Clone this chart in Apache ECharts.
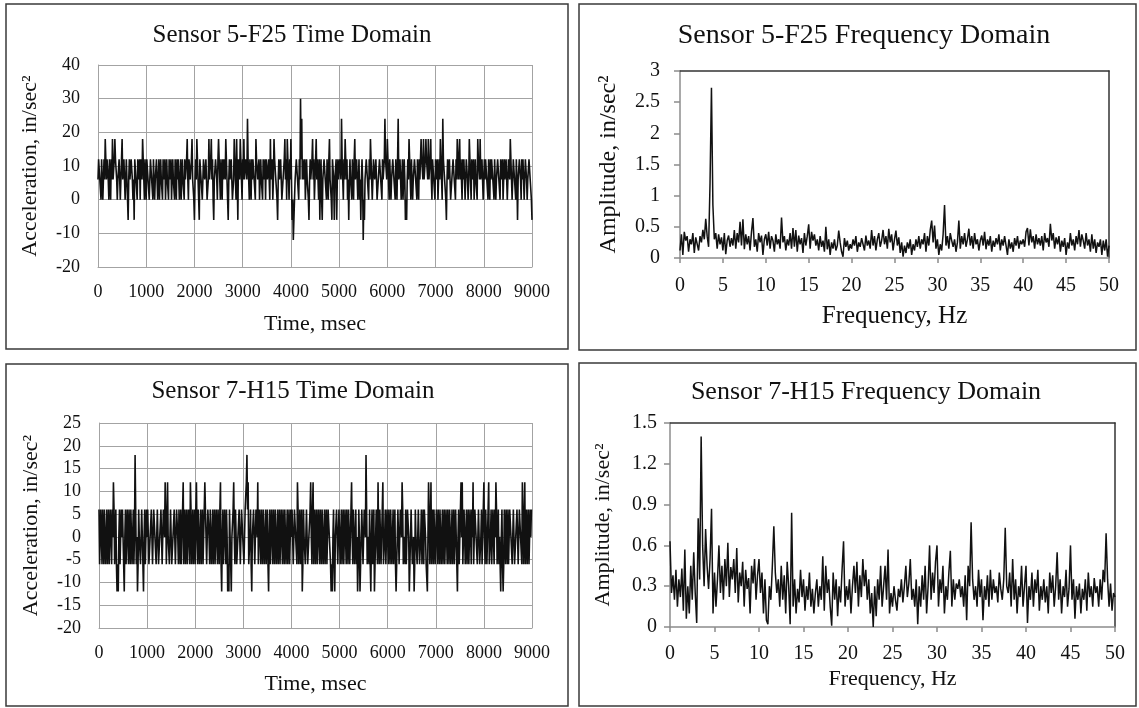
<!DOCTYPE html>
<html>
<head>
<meta charset="utf-8">
<title>Sensor 5-F25 / 7-H15</title>
<script src="https://cdn.jsdelivr.net/npm/echarts@6/dist/echarts.min.js"></script>
<style>
  html, body { margin: 0; padding: 0; background: #fff; }
  #chart { width: 1139px; height: 708px; }
</style>
</head>
<body>
<div id="chart"></div>
<script>
// sample spacing of the recordings
var timeStepMs = 12.5;
var freqStepHz = 1 / 6;

// Sensor 5-F25, acceleration (in/sec^2), one value every 12.5 ms
var accelF25 = [
  6,12,12,6,6,0,12,6,0,6,12,6,18,12,6,12,12,6,0,12,6,0,12,6,18,6,6,12,18,12,12,6,0,6,6,12,12,0,6,12,
  18,6,6,12,12,0,0,12,6,0,-6,6,12,6,6,12,12,6,0,6,-6,12,12,6,6,0,12,6,6,12,0,12,12,6,18,12,6,0,12,6,
  0,12,12,6,6,0,0,12,12,6,6,0,12,6,0,6,6,12,12,0,6,12,0,6,12,6,6,0,12,6,6,12,0,6,12,6,6,0,12,6,
  6,12,0,6,12,6,6,0,12,6,0,12,6,12,12,0,6,12,0,6,12,6,6,0,12,6,6,12,18,6,0,12,12,6,6,12,18,6,6,0,
  -6,6,12,6,18,12,6,0,-6,12,12,6,6,0,0,12,12,6,6,12,12,0,0,6,18,6,6,12,18,6,12,0,-6,6,6,12,12,6,0,12,
  18,12,6,0,12,6,0,12,6,12,12,6,18,12,6,0,-6,6,12,6,6,12,12,0,0,6,18,12,6,0,18,6,-6,12,12,6,18,12,6,0,
  12,6,18,6,6,12,12,6,24,12,6,0,12,6,0,12,6,12,12,6,6,0,18,12,12,6,6,12,0,6,12,6,6,0,12,6,6,12,0,12,
  12,6,6,12,12,0,18,6,6,12,0,6,18,12,12,6,6,0,-6,6,12,6,6,12,12,0,0,6,6,12,18,6,12,0,18,12,6,0,12,6,
  18,6,-6,0,-12,-6,-6,6,6,12,12,6,6,0,12,6,30,12,24,6,12,6,6,12,0,6,12,6,6,0,-6,6,12,6,6,12,18,6,12,0,
  6,12,18,6,12,6,0,12,-6,6,12,0,-6,6,6,12,12,6,6,0,12,6,0,12,18,6,6,0,-6,12,12,6,-6,6,6,12,-6,6,12,6,
  6,12,12,6,24,12,6,0,12,6,18,12,6,12,0,6,-6,6,12,6,6,0,12,6,0,12,18,6,6,12,12,0,6,12,0,6,-6,6,12,6,
  -12,0,-6,6,6,12,12,6,6,0,12,6,18,12,6,0,0,12,12,6,6,12,12,0,0,6,6,12,12,6,6,0,12,6,6,12,24,12,12,6,
  18,12,6,0,12,6,0,6,6,12,12,6,6,0,12,6,0,12,24,6,6,12,12,0,6,12,0,6,12,6,-6,0,-6,6,12,6,18,12,6,0,
  12,6,0,6,6,12,12,6,6,0,12,6,0,12,6,12,18,12,12,6,18,6,6,12,18,12,12,6,18,6,6,12,18,6,0,12,12,6,6,0,
  12,6,6,12,0,6,12,6,18,12,6,0,24,12,12,6,6,0,-6,6,12,6,6,12,12,0,0,6,6,12,12,6,6,0,12,6,18,12,6,12,
  18,6,12,6,0,12,6,12,12,0,6,12,12,6,0,6,18,12,6,0,12,6,6,12,0,6,12,6,6,0,18,12,12,6,18,6,6,12,12,0,
  0,12,6,12,12,6,6,0,12,6,0,12,6,12,12,6,6,0,12,6,0,6,6,12,12,6,6,0,12,6,6,12,0,6,12,6,6,12,12,0,
  6,12,12,6,18,12,6,0,0,12,12,6,6,0,12,6,-6,6,6,12,12,6,0,12,6,12,12,0,6,12,12,6,0,6,6,12,12,6,6,0,
  -6
];

// Sensor 7-H15, acceleration (in/sec^2), one value every 12.5 ms
var accelH15 = [
  6,-6,-6,6,0,-6,6,0,-6,6,6,-6,0,6,-6,0,6,-6,-6,6,0,-6,6,0,12,6,-6,0,6,-6,-12,-6,-12,0,6,-6,-6,6,0,6,
  6,-6,-12,0,6,-6,-6,6,0,-6,6,0,-6,6,6,-6,0,6,-6,0,18,6,-6,0,-12,-6,6,0,0,-6,-6,6,6,-6,-12,0,6,-6,-6,6,
  0,6,6,-6,-6,0,0,6,6,-6,-6,6,6,0,0,-6,-6,6,6,-6,-6,0,0,6,6,-6,-6,6,6,0,12,6,-6,0,12,0,0,-6,-6,6,
  6,-6,-6,0,0,6,6,-6,-6,6,6,0,-6,6,0,-6,6,-6,-6,6,12,-6,0,6,-6,0,6,-6,-6,6,0,-6,12,6,-6,0,6,-6,0,6,
  -6,6,12,0,-6,6,6,-6,0,6,-6,0,6,-6,-6,6,12,6,0,-6,-6,6,6,0,-6,6,6,-6,0,6,-6,0,6,-6,-6,6,0,-6,6,0,
  -6,6,12,-6,-12,0,6,-6,-6,6,0,-6,6,0,-12,-6,-12,6,6,-6,-12,0,0,6,12,0,-6,6,6,-6,-6,0,0,6,6,-6,-6,6,6,0,
  0,-6,-6,6,6,12,18,6,12,-6,-6,0,6,-6,-12,0,0,6,6,-6,-6,6,6,0,12,-6,-6,6,0,-6,6,0,-6,6,6,-6,0,6,-6,0,
  6,-6,-12,0,6,-6,-6,6,0,-6,6,0,-6,6,6,-6,0,6,-6,0,6,-6,-6,6,0,-6,6,0,-6,6,6,-6,0,6,-6,0,6,-6,-6,6,
  0,6,6,-6,-6,6,6,0,0,-6,12,6,-6,0,6,-6,-6,6,-12,-6,6,0,0,-6,-6,6,6,-6,-6,0,0,6,12,0,-6,6,12,-6,0,6,
  -6,0,6,-6,-6,6,0,-6,6,0,-6,6,6,-6,0,6,-6,0,6,-6,-6,6,6,0,0,-6,-12,-6,-12,0,6,-6,-12,0,0,6,6,-6,-6,6,
  6,-6,0,6,-6,0,6,-6,-6,6,0,-6,6,0,-6,6,6,-6,0,6,12,0,-6,6,6,-6,0,6,-6,0,-12,-6,6,0,-12,-6,0,6,6,-6,
  -6,6,6,0,18,6,-6,0,0,-6,6,-6,-12,0,6,-6,-6,6,-12,-6,0,6,6,-6,12,0,-6,6,6,-6,0,6,12,-6,-6,0,6,-6,-6,6,
  0,-6,6,0,-6,6,6,-6,0,6,-6,0,6,-6,-12,-6,0,6,6,-6,-6,6,6,0,12,6,-6,0,0,-6,6,-6,-6,6,6,0,-12,-6,0,6,
  6,-6,-6,0,-12,-6,6,0,0,-6,-6,6,6,-6,-6,0,6,-6,0,6,-6,6,6,0,-6,-6,-12,0,12,6,-6,0,12,-6,0,6,-6,6,6,-6,
  -6,6,0,-6,6,0,-6,6,6,-6,0,6,-6,0,6,-6,-6,6,0,-6,6,0,-6,6,6,-6,0,6,-6,0,6,-6,-6,6,0,-6,-12,0,6,-6,
  -6,6,12,0,12,-6,-6,6,6,-6,0,6,-6,0,6,-6,-6,6,0,-6,6,0,12,-6,-6,6,6,0,0,-6,-6,6,6,-6,-6,0,6,-6,0,6,
  12,0,-6,6,6,-6,0,6,12,-6,-6,0,6,-6,-6,6,0,-6,6,0,12,6,-6,0,6,-6,0,-6,-12,0,6,-6,-12,-6,6,0,-6,6,0,-6,
  6,-6,-6,6,6,0,0,-6,-6,6,6,-6,-6,0,0,6,6,-6,-6,6,6,0,0,-6,12,6,-6,0,12,-6,0,6,-6,0,6,-6,-6,6,0,6,
  6
];

// Sensor 5-F25, FFT amplitude, one value every 1/6 Hz
var ampF25 = [
  0.12,0.38,0.05,0.42,0.28,0.35,0.1,0.3,0.22,0.4,0.08,0.33,
  0.3,0.12,0.35,0.25,0.45,0.3,0.63,0.35,0.18,1.2,2.73,0.85,
  0.3,0.4,0.15,0.38,0.22,0.33,0.12,0.4,0.06,0.28,0.36,0.18,
  0.32,0.2,0.45,0.15,0.4,0.25,0.58,0.2,0.62,0.14,0.38,0.22,
  0.35,0.12,0.42,0.64,0.18,0.3,0.1,0.4,0.25,0.36,0.05,0.3,
  0.38,0.2,0.42,0.15,0.35,0.28,0.1,0.38,0.22,0.3,0.15,0.65,
  0.25,0.35,0.12,0.3,0.2,0.4,0.15,0.48,0.18,0.45,0.1,0.36,
  0.22,0.32,0.08,0.4,0.2,0.35,0.54,0.15,0.42,0.28,0.38,0.2,
  0.3,0.12,0.35,0.18,0.28,0.1,0.5,0.14,0.3,0.05,0.25,0.15,
  0.3,0.12,0.2,0.44,0.25,0.1,0.02,0.32,0.18,0.28,0.12,0.22,
  0.15,0.3,0.2,0.35,0.1,0.25,0.18,0.32,0.22,0.12,0.36,0.2,
  0.28,0.15,0.45,0.2,0.35,0.12,0.3,0.4,0.18,0.28,0.45,0.22,
  0.35,0.15,0.47,0.25,0.38,0.12,0.3,0.44,0.2,0.33,0.08,0.25,
  0.02,0.2,0.08,0.25,0.15,0.3,0.05,0.22,0.12,0.3,0.18,0.35,
  0.15,0.3,0.22,0.4,0.1,0.35,0.2,0.45,0.6,0.25,0.52,0.15,
  0.3,0.05,0.22,0.12,0.38,0.85,0.2,0.35,0.15,0.4,0.28,0.18,
  0.3,0.1,0.25,0.6,0.15,0.35,0.22,0.4,0.18,0.3,0.47,0.2,
  0.35,0.15,0.4,0.22,0.3,0.12,0.28,0.36,0.2,0.42,0.14,0.3,
  0.2,0.35,0.1,0.28,0.18,0.32,0.22,0.38,0.12,0.3,0.2,0.35,
  0.38,0.05,0.3,0.15,0.25,0.1,0.32,0.2,0.35,0.15,0.28,0.22,
  0.3,0.18,0.42,0.48,0.2,0.46,0.25,0.35,0.15,0.38,0.22,0.32,
  0.2,0.35,0.12,0.4,0.25,0.32,0.18,0.55,0.28,0.4,0.15,0.33,
  0.22,0.35,0.1,0.28,0.18,0.32,0.05,0.25,0.15,0.4,0.2,0.3,
  0.12,0.35,0.22,0.45,0.18,0.38,0.28,0.15,0.4,0.2,0.3,0.1,
  0.38,0.15,0.3,0.08,0.25,0.18,0.3,0.05,0.28,0.12,0.3,0.02,
  0.2
];

// Sensor 7-H15, FFT amplitude, one value every 1/6 Hz
var ampH15 = [
  0.63,0.25,0.38,0.2,0.42,0.15,0.35,0.22,0.43,0.12,0.57,0.06,
  0.3,0.1,0.45,0.2,0.55,0.25,0.03,0.8,0.35,1.4,0.6,0.3,
  0.72,0.45,0.28,0.5,0.87,0.1,0.4,0.15,0.35,0.6,0.25,0.45,
  0.2,0.5,0.3,0.62,0.22,0.44,0.35,0.5,0.25,0.58,0.18,0.4,
  0.3,0.48,0.15,0.42,0.28,0.36,0.1,0.45,0.32,0.5,0.2,0.38,
  0.5,0.25,0.4,0.1,0.35,0.05,0.02,0.3,0.2,0.45,0.74,0.4,
  0.25,0.35,0.15,0.45,0.2,0.38,0.1,0.48,0.3,0.02,0.84,0.15,
  0.35,0.1,0.28,0.18,0.42,0.22,0.35,0.12,0.3,0.2,0.4,0.15,
  0.28,0.1,0.25,0.35,0.15,0.3,0.2,0.52,0.12,0.45,0.25,0.35,
  0.15,0.01,0.4,0.2,0.35,0.08,0.3,0.18,0.42,0.63,0.15,0.3,
  0.2,0.35,0.1,0.3,0.45,0.25,0.48,0.15,0.38,0.22,0.5,0.3,
  0.42,0.2,0.35,0.1,0.25,0.0,0.3,0.08,0.35,0.2,0.45,0.15,
  0.3,0.45,0.2,0.57,0.1,0.25,0.15,0.3,0.2,0.12,0.28,0.22,
  0.35,0.18,0.3,0.45,0.22,0.32,0.5,0.2,0.28,0.15,0.35,0.02,
  0.3,0.15,0.38,0.2,0.45,0.1,0.3,0.6,0.2,0.4,0.25,0.48,
  0.6,0.15,0.35,0.25,0.45,0.1,0.3,0.2,0.4,0.56,0.15,0.35,
  0.2,0.32,0.28,0.35,0.22,0.3,0.15,0.38,0.05,0.45,0.3,0.77,
  0.35,0.2,0.3,0.15,0.42,0.22,0.35,0.05,0.3,0.2,0.38,0.15,
  0.42,0.2,0.35,0.25,0.3,0.18,0.4,0.28,0.2,0.35,0.73,0.3,
  0.25,0.4,0.15,0.5,0.2,0.35,0.1,0.3,0.22,0.45,0.15,0.3,
  0.45,0.03,0.3,0.2,0.4,0.15,0.35,0.25,0.42,0.12,0.3,0.2,
  0.35,0.18,0.3,0.1,0.4,0.25,0.38,0.15,0.3,0.55,0.2,0.35,
  0.1,0.3,0.22,0.42,0.15,0.28,0.6,0.2,0.35,0.06,0.3,0.2,
  0.32,0.1,0.28,0.2,0.35,0.12,0.4,0.22,0.3,0.15,0.36,0.25,
  0.3,0.15,0.35,0.2,0.42,0.33,0.69,0.35,0.15,0.32,0.12,0.25,
  0.22
];

var panelTitles = [
  "Sensor 5-F25 Time Domain",
  "Sensor 5-F25 Frequency Domain",
  "Sensor 7-H15 Time Domain",
  "Sensor 7-H15 Frequency Domain"
];

var FONT = "Liberation Serif";
var INK = "#111";
var GRIDGRAY = "#a3a3a3";

// pair each value with its time / frequency position
function toPairs(values, step) {
  return values.map(function (v, i) {
    return [i * step, v];
  });
}

function plain(v) {
  return String(v);
}
function oneDecimal(v) {
  return String(Number(v.toFixed(1)));
}

var chart = echarts.init(document.getElementById("chart"), null, { renderer: "canvas" });

// time domain axes: grey grid both ways, no ticks
function timeXAxis(grid, margin, gap) {
  return {
    type: "value", gridIndex: grid, min: 0, max: 9000, interval: 1000,
    name: "Time, msec", nameLocation: "middle", nameGap: gap,
    nameTextStyle: { fontFamily: FONT, fontSize: 22, color: INK },
    axisLine: { show: true, onZero: false, lineStyle: { color: GRIDGRAY, width: 1 } },
    axisTick: { show: false },
    axisLabel: { fontFamily: FONT, fontSize: 18, color: INK, margin: margin, formatter: plain },
    splitLine: { show: true, lineStyle: { color: GRIDGRAY, width: 1 } }
  };
}
function timeYAxis(grid, min, max, interval) {
  return {
    type: "value", gridIndex: grid, min: min, max: max, interval: interval,
    name: "Acceleration, in/sec²", nameLocation: "middle", nameGap: 57,
    nameTextStyle: { fontFamily: FONT, fontSize: 22, color: INK },
    axisLine: { show: true, lineStyle: { color: GRIDGRAY, width: 1 } },
    axisTick: { show: false },
    axisLabel: { fontFamily: FONT, fontSize: 18, color: INK, margin: 18 },
    splitLine: { show: true, lineStyle: { color: GRIDGRAY, width: 1 } }
  };
}
// frequency axes: grey axis lines with outside ticks, no grid
function freqXAxis(grid, fontSize, nameSize, margin, gap) {
  return {
    type: "value", gridIndex: grid, min: 0, max: 50, interval: 5,
    name: "Frequency, Hz", nameLocation: "middle", nameGap: gap,
    nameTextStyle: { fontFamily: FONT, fontSize: nameSize, color: INK },
    axisLine: { show: true, onZero: false, lineStyle: { color: "#8c8c8c", width: 1.5 } },
    axisTick: { show: true, length: 5, lineStyle: { color: "#8c8c8c", width: 1.5 } },
    axisLabel: { fontFamily: FONT, fontSize: fontSize, color: INK, margin: margin },
    splitLine: { show: false }
  };
}
function freqYAxis(grid, max, interval, fontSize, nameSize, margin, gap, fmt) {
  return {
    type: "value", gridIndex: grid, min: 0, max: max, interval: interval,
    name: "Amplitude, in/sec²", nameLocation: "middle", nameGap: gap,
    nameTextStyle: { fontFamily: FONT, fontSize: nameSize, color: INK },
    axisLine: { show: true, lineStyle: { color: "#8c8c8c", width: 1.5 } },
    axisTick: { show: true, length: 6, lineStyle: { color: "#8c8c8c", width: 1.5 } },
    axisLabel: { fontFamily: FONT, fontSize: fontSize, color: INK, margin: margin, formatter: fmt },
    splitLine: { show: false }
  };
}
// plain dark edge for top / right side of the frequency boxes
function edgeAxis(grid, pos) {
  return {
    type: "value", gridIndex: grid, position: pos, min: 0, max: 1,
    axisLine: { show: true, onZero: false, lineStyle: { color: "#333", width: 1.5 } },
    axisTick: { show: false }, axisLabel: { show: false }, splitLine: { show: false }
  };
}

// outer frames around each of the four panels
function frame(x, y, w, h) {
  return {
    type: "rect", silent: true,
    shape: { x: x, y: y, width: w, height: h },
    style: { fill: null, stroke: "#3a3a3a", lineWidth: 1.5 }
  };
}

var option = {
  backgroundColor: "#fff",
  animation: false,
  title: [
    { text: panelTitles[0], left: 287, top: 18, textAlign: "center",
      textStyle: { fontFamily: FONT, fontSize: 25, fontWeight: "normal", color: INK } },
    { text: panelTitles[1], left: 859, top: 17, textAlign: "center",
      textStyle: { fontFamily: FONT, fontSize: 28, fontWeight: "normal", color: INK } },
    { text: panelTitles[2], left: 288, top: 374, textAlign: "center",
      textStyle: { fontFamily: FONT, fontSize: 25, fontWeight: "normal", color: INK } },
    { text: panelTitles[3], left: 861, top: 374, textAlign: "center",
      textStyle: { fontFamily: FONT, fontSize: 26, fontWeight: "normal", color: INK } }
  ],
  graphic: [
    frame(6, 4, 562, 345),
    frame(579, 4, 557, 346),
    frame(6, 364, 562, 342),
    frame(579, 363, 557, 343)
  ],
  grid: [
    { left: 98, top: 65, width: 434, height: 202 },
    { left: 680, top: 71, width: 429, height: 187 },
    { left: 99, top: 423, width: 433, height: 205 },
    { left: 670, top: 423, width: 445, height: 204 }
  ],
  xAxis: [
    timeXAxis(0, 16, 46),
    freqXAxis(1, 20, 25, 18, 46),
    timeXAxis(2, 16, 45),
    freqXAxis(3, 20, 22, 17, 41),
    edgeAxis(1, "top"),
    edgeAxis(3, "top")
  ],
  yAxis: [
    timeYAxis(0, -20, 40, 10),
    freqYAxis(1, 3, 0.5, 20, 24, 20, 59),
    timeYAxis(2, -20, 25, 5),
    freqYAxis(3, 1.5, 0.3, 20, 22, 13, 56, oneDecimal),
    edgeAxis(1, "right"),
    edgeAxis(3, "right")
  ],
  series: [
    { type: "line", xAxisIndex: 0, yAxisIndex: 0, data: toPairs(accelF25, timeStepMs),
      showSymbol: false, symbol: "none", lineStyle: { color: INK, width: 1.6 } },
    { type: "line", xAxisIndex: 1, yAxisIndex: 1, data: toPairs(ampF25, freqStepHz),
      showSymbol: false, symbol: "none", lineStyle: { color: INK, width: 1.5 } },
    { type: "line", xAxisIndex: 2, yAxisIndex: 2, data: toPairs(accelH15, timeStepMs),
      showSymbol: false, symbol: "none", lineStyle: { color: INK, width: 1.6 } },
    { type: "line", xAxisIndex: 3, yAxisIndex: 3, data: toPairs(ampH15, freqStepHz),
      showSymbol: false, symbol: "none", lineStyle: { color: INK, width: 1.5 } }
  ]
};

chart.setOption(option);
</script>
</body>
</html>
